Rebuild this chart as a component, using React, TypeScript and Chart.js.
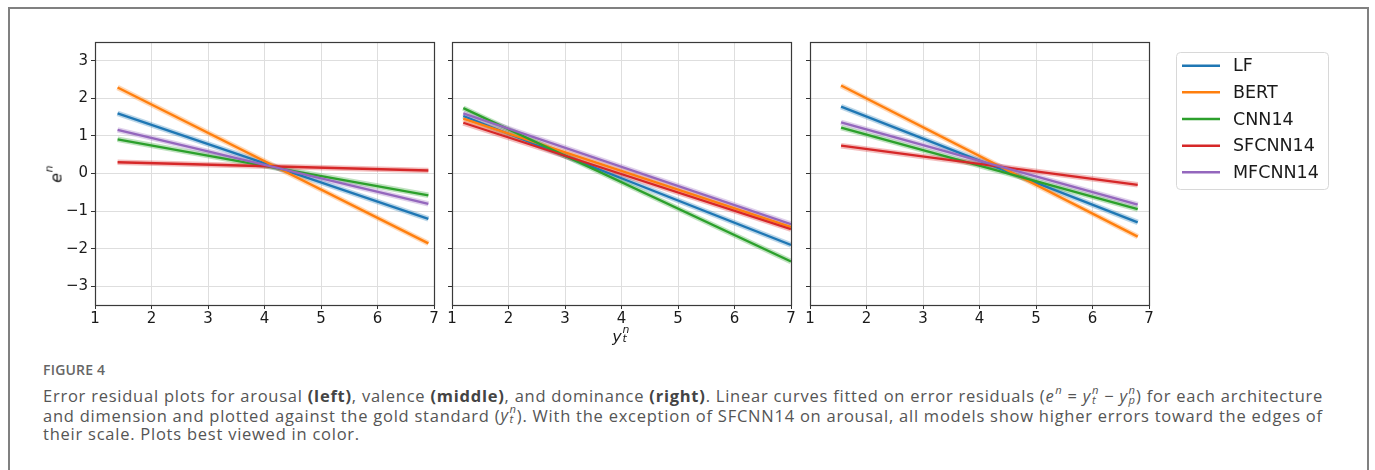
import React, { useEffect, useRef } from 'react';
import { Chart, registerables } from 'chart.js';

Chart.register(...registerables);

// ---------- data ----------
const models = ['LF', 'BERT', 'CNN14', 'SFCNN14', 'MFCNN14'];
const colors = ['#1f77b4', '#ff7f0e', '#2ca02c', '#d62728', '#9467bd'];
const bandColors = ['rgba(31,119,180,0.3)', 'rgba(255,127,14,0.3)', 'rgba(44,160,44,0.3)', 'rgba(214,39,40,0.3)', 'rgba(148,103,189,0.3)'];
const xTicks = [1, 2, 3, 4, 5, 6, 7];
const yTicks = [-3, -2, -1, 0, 1, 2, 3];

// arousal (left)
const arousalX = [1.4, 6.9];
const arousalStart = [1.6, 2.29, 0.91, 0.3, 1.16];
const arousalEnd = [-1.21, -1.86, -0.58, 0.08, -0.81];

// valence (middle)
const valenceX = [1.2, 7.0];
const valenceStart = [1.53, 1.46, 1.74, 1.35, 1.6];
const valenceEnd = [-1.9, -1.42, -2.34, -1.48, -1.35];

// dominance (right)
const dominanceX = [1.55, 6.8];
const dominanceStart = [1.78, 2.34, 1.22, 0.74, 1.36];
const dominanceEnd = [-1.3, -1.68, -0.95, -0.3, -0.83];

// ---------- layout ----------
const PLOT_TOP = 42;
const PLOT_W = 339;
const PLOT_H = 263;
const PAD_TOP = 14;
const X_AXIS_H = 30;
const CHART_FONT = 'DejaVu Sans';

const fmt = (v: number) => (v < 0 ? '\u2212' + Math.abs(v) : String(v));

const framePlugin = {
  id: 'frame',
  afterDraw(chart: any) {
    const { ctx, chartArea: a } = chart;
    ctx.save();
    ctx.strokeStyle = '#3a3a3a';
    ctx.lineWidth = 1.2;
    ctx.strokeRect(Math.round(a.left) + 0.5, Math.round(a.top) + 0.5, Math.round(a.right - a.left), Math.round(a.bottom - a.top));
    ctx.restore();
  },
};

type LegendSpec = { x: number; y: number; w: number; h: number; firstRow: number; rowGap: number; handleX: number; handleLen: number; textX: number };

function makeLegendPlugin(spec: LegendSpec, offX: number, offY: number) {
  return {
    id: 'boxLegend',
    afterDraw(chart: any) {
      const ctx = chart.ctx;
      const items = chart.data.datasets.filter((d: any) => !d.band);
      const x = spec.x - offX;
      const y = spec.y - offY;
      ctx.save();
      ctx.beginPath();
      ctx.roundRect(x + 0.5, y + 0.5, spec.w, spec.h, 4);
      ctx.fillStyle = 'rgba(255,255,255,0.85)';
      ctx.fill();
      ctx.strokeStyle = '#d8d8d8';
      ctx.lineWidth = 1;
      ctx.stroke();
      ctx.font = `17.5px "${CHART_FONT}"`;
      ctx.textBaseline = 'middle';
      ctx.textAlign = 'left';
      items.forEach((d: any, i: number) => {
        const cy = spec.firstRow - offY + i * spec.rowGap;
        ctx.strokeStyle = d.borderColor;
        ctx.lineWidth = 2.5;
        ctx.beginPath();
        ctx.moveTo(spec.handleX - offX, cy);
        ctx.lineTo(spec.handleX - offX + spec.handleLen, cy);
        ctx.stroke();
        ctx.fillStyle = '#1a1a1a';
        ctx.fillText(d.label, spec.textX - offX, cy + 1);
      });
      ctx.restore();
    },
  };
}

type PanelProps = {
  plotLeft: number;
  yAxisW: number;
  padRight: number;
  showYLabels: boolean;
  xs: number[];
  starts: number[];
  ends: number[];
  legend?: LegendSpec;
};

function Panel({ plotLeft, yAxisW, padRight, showYLabels, xs, starts, ends, legend }: PanelProps) {
  const ref = useRef<HTMLCanvasElement | null>(null);
  const left = plotLeft - yAxisW;
  const top = PLOT_TOP - PAD_TOP;
  const width = yAxisW + PLOT_W + padRight;
  const height = PAD_TOP + PLOT_H + X_AXIS_H;

  useEffect(() => {
    if (!ref.current) return;
    const datasets: any[] = [];
    models.forEach((m, i) => {
      const pts = [
        { x: xs[0], y: starts[i] },
        { x: xs[1], y: ends[i] },
      ];
      datasets.push({
        label: '',
        band: true,
        data: pts,
        borderColor: bandColors[i],
        borderWidth: 5.5,
        pointRadius: 0,
        order: 20 - i,
        borderCapStyle: 'butt',
      });
      datasets.push({
        label: m,
        data: pts,
        borderColor: colors[i],
        borderWidth: 2.3,
        pointRadius: 0,
        order: 10 - i,
        borderCapStyle: 'butt',
      });
    });

    const gridCommon = {
      color: '#dedede',
      lineWidth: 1,
      tickColor: '#333',
      tickLength: 4,
      drawTicks: true,
      drawOnChartArea: true,
    };
    const plugins: any[] = [framePlugin];
    if (legend) plugins.push(makeLegendPlugin(legend, left, top));

    const chart = new Chart(ref.current, {
      type: 'line',
      data: { datasets },
      options: {
        animation: false,
        responsive: false,
        maintainAspectRatio: false,
        devicePixelRatio: 1,
        layout: { padding: { left: 0, top: PAD_TOP, right: padRight, bottom: 0 } },
        plugins: { legend: { display: false }, tooltip: { enabled: false } },
        elements: { point: { radius: 0 }, line: { tension: 0 } },
        scales: {
          x: {
            type: 'linear',
            min: 1,
            max: 7,
            afterBuildTicks: (s: any) => {
              s.ticks = xTicks.map((v) => ({ value: v }));
            },
            afterFit: (s: any) => {
              s.height = X_AXIS_H;
            },
            grid: gridCommon,
            border: { display: false },
            ticks: {
              color: '#1a1a1a',
              padding: 1,
              font: { family: CHART_FONT, size: 15 },
              maxRotation: 0,
              autoSkip: false,
              callback: (v: any) => fmt(Number(v)),
            },
          },
          y: {
            type: 'linear',
            min: -3.5,
            max: 3.5,
            afterBuildTicks: (s: any) => {
              s.ticks = yTicks.map((v) => ({ value: v }));
            },
            afterFit: (s: any) => {
              s.width = yAxisW;
            },
            grid: gridCommon,
            border: { display: false },
            ticks: {
              color: '#1a1a1a',
              padding: 3,
              font: { family: CHART_FONT, size: 15 },
              autoSkip: false,
              callback: (v: any) => (showYLabels ? fmt(Number(v)) : ''),
            },
          },
        },
      } as any,
      plugins,
    });
    return () => chart.destroy();
  }, []);

  return (
    <canvas
      ref={ref}
      width={width}
      height={height}
      style={{ position: 'absolute', left, top, width, height }}
    />
  );
}

// italic base with a stacked superscript and optional subscript
function SupSub({ base, sup, sub }: { base: string; sup: string; sub?: string }) {
  return (
    <span style={{ whiteSpace: 'nowrap' }}>
      <span style={{ fontStyle: 'italic' }}>{base}</span>
      <span style={{ position: 'relative', display: 'inline-block', width: '0.45em', height: '1em', marginLeft: '0.04em' }}>
        <span style={{ position: 'absolute', left: 0, top: '-0.12em', fontSize: '0.68em', lineHeight: 1, fontStyle: 'italic' }}>{sup}</span>
        {sub ? (
          <span style={{ position: 'absolute', left: 0, top: '0.78em', fontSize: '0.68em', lineHeight: 1, fontStyle: 'italic' }}>{sub}</span>
        ) : null}
      </span>
    </span>
  );
}

const captionLine: React.CSSProperties = { height: '19.5px', lineHeight: '19.5px', whiteSpace: 'nowrap' };
const bold: React.CSSProperties = { color: '#444', fontWeight: 700 };

export default function App() {
  const legend: LegendSpec = {
    x: 1176,
    y: 52,
    w: 152,
    h: 137,
    firstRow: 65.7,
    rowGap: 26.65,
    handleX: 1182,
    handleLen: 38,
    textX: 1233,
  };
  return (
    <div style={{ position: 'absolute', left: 0, top: 0, width: 1375, height: 470, overflow: 'hidden', background: '#fff' }}>
      <div
        style={{
          position: 'absolute',
          left: 8,
          top: 7,
          width: 1361,
          height: 480,
          boxSizing: 'border-box',
          borderLeft: '2px solid #808080',
          borderTop: '2px solid #808080',
          borderRight: '2px solid #808080',
        }}
      />
      <Panel plotLeft={95} yAxisW={50} padRight={15} showYLabels={true} xs={arousalX} starts={arousalStart} ends={arousalEnd} />
      <Panel plotLeft={452} yAxisW={12} padRight={15} showYLabels={false} xs={valenceX} starts={valenceStart} ends={valenceEnd} />
      <Panel plotLeft={810} yAxisW={12} padRight={191} showYLabels={false} xs={dominanceX} starts={dominanceStart} ends={dominanceEnd} legend={legend} />

      {/* y-axis label */}
      <div
        style={{
          position: 'absolute',
          left: 55,
          top: 174,
          transform: 'translate(-50%, -50%) rotate(-90deg)',
          fontFamily: CHART_FONT,
          fontSize: 16,
          color: '#1a1a1a',
          whiteSpace: 'nowrap',
          lineHeight: 1,
        }}
      >
        <SupSub base="e" sup="n" />
      </div>
      {/* x-axis label */}
      <div
        style={{
          position: 'absolute',
          left: 621,
          top: 335,
          transform: 'translate(-50%, -50%)',
          fontFamily: CHART_FONT,
          fontSize: 16,
          color: '#1a1a1a',
          whiteSpace: 'nowrap',
          lineHeight: 1,
        }}
      >
        <SupSub base="y" sup="n" sub="t" />
      </div>

      {/* caption */}
      <div
        style={{
          position: 'absolute',
          left: 43,
          top: 361,
          fontFamily: '"Open Sans", sans-serif',
          fontWeight: 600,
          fontSize: 14,
          lineHeight: '18px',
          color: '#666',
          letterSpacing: '0.2px',
        }}
      >
        FIGURE 4
      </div>
      <div
        style={{
          position: 'absolute',
          left: 43,
          top: 385,
          fontFamily: '"Open Sans", sans-serif',
          fontSize: 16.5,
          fontWeight: 400,
          letterSpacing: '0.76px',
          color: '#555',
        }}
      >
        <div style={captionLine}>
          Error residual plots for arousal <span style={bold}>(left)</span>, valence <span style={bold}>(middle)</span>, and dominance{' '}
          <span style={bold}>(right)</span>. Linear curves fitted on error residuals (<SupSub base="e" sup="n" /> = <SupSub base="y" sup="n" sub="t" /> −{' '}
          <SupSub base="y" sup="n" sub="p" />) for each architecture
        </div>
        <div style={captionLine}>
          and dimension and plotted against the gold standard (<SupSub base="y" sup="n" sub="t" />). With the exception of SFCNN14 on arousal, all models show higher errors toward the edges of
        </div>
        <div style={captionLine}>their scale. Plots best viewed in color.</div>
      </div>
    </div>
  );
}
